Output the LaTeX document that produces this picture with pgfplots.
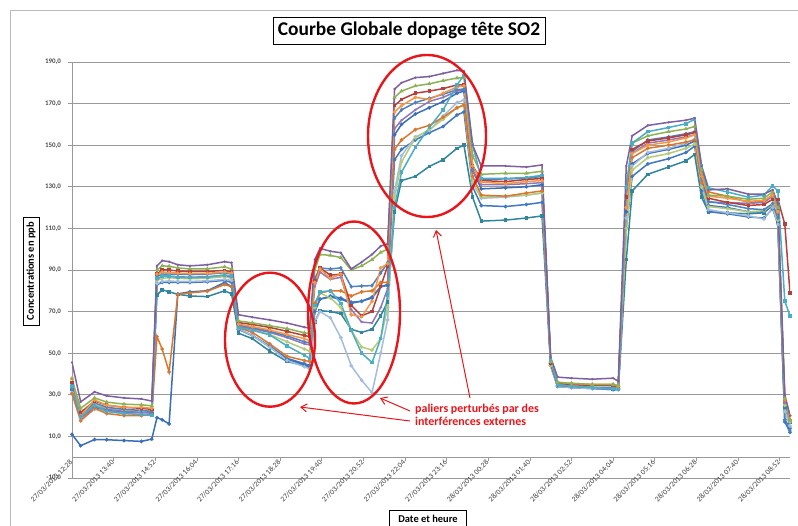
\documentclass[border=0pt]{standalone}
\usepackage{pgfplots}
\pgfplotsset{compat=1.18}
\usepackage{pgfplotstable}
\usepackage{fontspec}
\setmainfont{Carlito}
\usetikzlibrary{arrows.meta}

% hours after 27/03/2013 12:28
\pgfplotstableread{
t pu gr dr bl or cy p2 do mb lg lb dt sb
0.00 45.5 37.5 36 35 38 34 33 30.5 32 34 31 33 11
0.25 26.6 23.5 21.5 20.5 20 19.5 19 17.5 18.5 19 18 18.5 5.5
0.65 31.4 28.5 27 26 27.5 25 24.5 23.5 24 25 23 24.5 8.5
1.00 29.5 26.5 25 24 25 22 23 21 22.5 23.5 22 22.5 8.4
1.50 28.5 25.5 24 23 24 21 22 20 21.5 22.5 21 22 8
2.00 28 25.2 23.5 22.5 24 20.5 21.5 20 21 22.5 21 21.5 7.6
2.30 27 24.7 23 22 23.5 20 21.5 20.5 21 22 20.5 21 8.7
2.45 92 90 88 87 88 86 85.5 58 83 85 83.5 78 19
2.60 94.5 92 90 88 89 87 87 52 84 86 84.5 80.5 18
2.80 94 91.8 90 88 88.8 87 87 41 84 86.3 84.7 79.5 16
3.05 92.5 91 89.5 88 88.5 86.5 86.8 78.3 84 86 84.5 78.3 78.5
3.40 92 90.5 89.3 87.8 88.3 86.3 86.5 79 84 85.8 84.5 77.5 79.5
3.90 92.5 90.6 89.3 88 88.4 86.5 86.8 79.8 84.3 86 84.8 77.2 80
4.40 94 91.5 89.8 88.7 89 87.7 87.4 83 85 86.8 85.5 80 84
4.60 93.5 90.5 89 88 88.5 87 86.5 82 84 86 85 78.5 82
4.80 68.5 65.5 64.7 63.4 64 62.3 62.8 62.3 61.5 62.8 61.8 59.6 61.5
5.20 67.3 64.6 63.8 62.4 62.8 61 61.8 60 58.5 61.3 58.5 57 58.5
5.70 66 63.2 62.4 60.5 61.2 58.8 60 54.5 53.5 59 53 51 53
6.20 64.5 61.8 60.5 58.3 59 53.5 57.5 48.5 47.5 55.5 46.5 46 47
6.70 62.5 59.8 58.5 55.5 57 49 54.5 46.5 45 52 43.5 44 44.5
6.85 62 59.5 58 55 56 47.5 54 46 44 51 42.5 43.5 44
7.00 95 90 85 86 84 73 82 74 70 72 65 65 70
7.15 100.4 97.5 91 91 90.5 79.5 89 79 76 79 70 70.5 76
7.45 99 97 87.5 90.5 86 80 85.5 80 77.5 76.5 67 70 77
7.75 98.3 96 88 91 88 74 86.5 80 76.5 72 57.5 69 76
8.05 90.5 90 73 82 68.5 61 71 77.5 74.5 61 44 61.5 74
8.35 93.8 92 68 82.3 67.5 50 65 79.5 75 53 37 60 75
8.65 97.5 95 70 82.5 75 45.5 64.5 80 76.5 51.5 31 61.5 77
8.90 101.5 98.5 82 88.5 91 57 72 84 82 57 50 68 82
9.10 102.5 100 92 93.5 93 78 81 84 82.5 72 66 74.7 83
9.30 177 173 169 163 166 120 158 148 143 125 128 118 155
9.50 180 176 172 167 169 137 162 152.5 148 142 145 133 160
9.90 182.5 178.5 175 170.5 173 149 167 157.5 152.5 153.5 154 135 165
10.30 183 179.5 176 172.5 172 158.5 171 159.5 156 157.5 157 139.8 168
10.70 184.5 181 177.2 174.5 175 167 173 163.5 159 162.5 164 143 171
11.10 186 182.3 179 176.7 178 179 176 168 164.5 168 170.5 148.5 175
11.30 185.5 182.5 179 177 178.5 183.6 176.5 169.3 166 169.3 171.7 150 176
11.55 150 145 140 140 140 150 138 135 130 132 132 125 138
11.80 140 136 133 133.5 132.3 134 131 126 121 125 124.5 113.5 129
12.50 140 136.5 132.5 133.8 131.5 134 131 125.5 120.5 125.5 125 114 129.5
13.10 139.5 136.5 133.5 134 132.5 134.5 131.5 127 121.5 126 126 115 130
13.55 140.5 137.5 134 135 133 135.5 132 128 122.5 127 127 116 131
13.80 48 46 45 45 46 47 45 45 44 44 44 44 45
14.00 38.5 36 35.5 34.5 36 35 35 36 34 34.5 34 34 34.5
14.40 38 35.5 35 34 35.5 34 35 35 33.5 34 33.5 33.5 34
15.00 37.5 35 34.5 33.5 35 33.5 34.5 34.5 33 33.5 33 33 33.5
15.60 38 35 34.5 33.5 35 33 34.5 34.5 32.5 33.5 33 32.5 33
15.75 36.5 34.5 34 33 34 32.5 34 34 32.5 33 32.5 32.5 33
15.98 140 130 125 125 120 130 125 120 110 110 115 95 118
16.15 154.5 151 148 147 146 151 146 144 135 138 140 128 141
16.60 159.5 154.5 152 152.5 150 156.5 151 148.5 141 144 146.5 136 146
17.20 161 156.5 153.5 154 151.5 158.5 152.5 150 143.5 146 148.5 139.5 148
17.70 162 157.8 155 155.5 153.5 160.3 154 151.5 146.5 148.5 151 142.5 150
17.95 163 159 156 156.5 155 162.5 155 152.5 149.5 150.5 153 145.5 152
18.15 140 138 135 135 135 140 133 132 128 130 130 125 130
18.35 128.5 126 124.5 123 125.5 129.5 122.5 127.5 118 120.5 119 118 121
18.90 129 125.5 122.5 121.5 124.5 127.5 122.5 125.5 117 119.5 117.5 117.5 120
19.50 126.5 124 121 119.5 123 125 122 122.5 115.5 118 116 117 118
19.95 126.5 124.5 121.5 119 123.5 126 122.5 123 115 118.5 114.5 117.5 118
20.20 128.5 127.5 124 122 126 130.5 125.5 126 119.5 121.5 120 121 121
20.35 122 120 124 115 118 128 118 118 112 114 112 113 113
20.55 30 28 112 18 28 75 26 27 17 25 22 24 18
20.70 20 18 79 13 20 68 18 18 12 17 15 17 14
}\data

\definecolor{cpu}{HTML}{7E60A2}
\definecolor{cgr}{HTML}{8DB255}
\definecolor{cdr}{HTML}{B3403C}
\definecolor{cbl}{HTML}{4F81BD}
\definecolor{cor}{HTML}{F79646}
\definecolor{ccy}{HTML}{4BACC6}
\definecolor{cp2}{HTML}{9077B8}
\definecolor{cdo}{HTML}{D9772E}
\definecolor{cmb}{HTML}{3F78C2}
\definecolor{clg}{HTML}{B3CC7A}
\definecolor{clb}{HTML}{A5BCDD}
\definecolor{cdt}{HTML}{31859C}
\definecolor{csb}{HTML}{3A6FB8}
\definecolor{annot}{HTML}{E8151B}

\begin{document}
\begin{tikzpicture}
\useasboundingbox (0,0) rectangle (798bp,526bp);
\draw[gray!55, line width=1.2bp] (10.5bp,-30bp) rectangle (840bp,515.5bp);

\begin{axis}[
  at={(72bp,48bp)}, anchor=south west,
  scale only axis, width=718bp, height=416bp,
  xmin=0, xmax=20.7, ymin=-10, ymax=190,
  axis x line=middle, axis y line=left,
  axis line style={-, draw=gray!80, line width=0.8bp},
  hide obscured x ticks=false, hide obscured y ticks=false,
  tick align=outside, major tick length=3.5bp,
  tick style={draw=gray!80, line width=0.6bp},
  ytick={-10,10,...,190},
  ymajorgrids, grid style={draw=gray!80, line width=0.8bp},
  xtick={0,1.2,2.4,3.6,4.8,6,7.2,8.4,9.6,10.8,12,13.2,14.4,15.6,16.8,18,19.2,20.4},
  xticklabels={27/03/2013 12:28,27/03/2013 13:40,27/03/2013 14:52,27/03/2013 16:04,27/03/2013 17:16,27/03/2013 18:28,27/03/2013 19:40,27/03/2013 20:52,27/03/2013 22:04,27/03/2013 23:16,28/03/2013 00:28,28/03/2013 01:40,28/03/2013 02:52,28/03/2013 04:04,28/03/2013 05:16,28/03/2013 06:28,28/03/2013 07:40,28/03/2013 08:52},
  xticklabel style={rotate=45, anchor=east, font=\fontsize{7.6}{8}\selectfont, text=black!75, inner sep=1bp},
  yticklabel style={font=\fontsize{7}{8}\selectfont\bfseries, text=black!70, xshift=-4bp,
    /pgf/number format/.cd, fixed, fixed zerofill, precision=1, use comma, assume math mode=true},
  every axis plot/.append style={line width=1.5bp, mark size=1bp},
  clip=true,
]
\addplot[cdt, mark=square*] table[x=t,y=dt]{\data};
\addplot[csb, mark=*] table[x=t,y=sb]{\data};
\addplot[cmb, mark=*] table[x=t,y=mb]{\data};
\addplot[clb, mark=*] table[x=t,y=lb]{\data};
\addplot[clg, mark=*] table[x=t,y=lg]{\data};
\addplot[cdo, mark=*] table[x=t,y=do]{\data};
\addplot[cp2, mark=x] table[x=t,y=p2]{\data};
\addplot[cbl, mark=diamond*] table[x=t,y=bl]{\data};
\addplot[cdr, mark=square*] table[x=t,y=dr]{\data};
\addplot[cor, mark=*] table[x=t,y=or]{\data};
\addplot[cgr, mark=triangle*] table[x=t,y=gr]{\data};
\addplot[ccy, mark=square*] table[x=t,y=cy]{\data};
\addplot[cpu, mark=x] table[x=t,y=pu]{\data};
\end{axis}

% annotations
\draw[annot, line width=2.4bp] (270bp,186.3bp) ellipse [x radius=45bp, y radius=67bp];
\draw[annot, line width=2.4bp] (354bp,213.5bp) ellipse [x radius=46bp, y radius=91bp];
\draw[annot, line width=2.4bp] (427bp,390bp) ellipse [x radius=59bp, y radius=81bp];
\draw[annot, line width=1bp, -{Straight Barb[length=6bp,width=8bp]}] (410bp,105bp) -- (300bp,119bp);
\draw[annot, line width=1bp, -{Straight Barb[length=6bp,width=8bp]}] (410bp,115bp) -- (380bp,128bp);
\draw[annot, line width=1bp, -{Straight Barb[length=6bp,width=8bp]}] (470bp,128bp) -- (436bp,296bp);
\node[anchor=north west, align=left, text=annot, inner sep=0pt,
  font=\fontsize{12}{13.3}\selectfont\bfseries] at (415bp,122bp)
  {paliers perturbés par des\\interférences externes};

% title and axis titles
\node[draw=black, line width=0.8bp, minimum width=272bp, minimum height=27bp, inner sep=0pt,
  font=\fontsize{19.5}{22}\selectfont\bfseries, fill=white] at (409bp,495.5bp) {Courbe Globale dopage tête SO2};
\node[draw=black, line width=0.8bp, rotate=90, minimum width=108bp, minimum height=16bp, inner sep=0pt,
  font=\fontsize{10.5}{11}\selectfont\bfseries] at (31bp,255bp) {Concentrations en ppb};
\node[draw=black, line width=0.8bp, minimum width=77bp, minimum height=17bp, inner sep=0pt,
  font=\fontsize{10.5}{11}\selectfont\bfseries] at (428bp,7bp) {Date et heure};
\end{tikzpicture}
\end{document}
